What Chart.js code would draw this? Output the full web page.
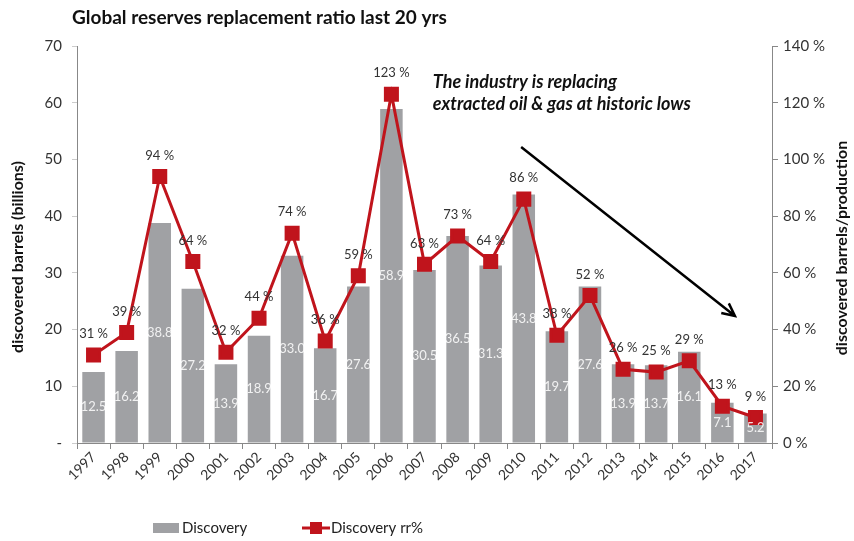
<!DOCTYPE html>
<html>
<head>
<meta charset="utf-8">
<script src="https://cdn.jsdelivr.net/npm/chart.js@4"></script>
<style>
  html, body { margin: 0; padding: 0; background: #fff; }
  #wrap { width: 854px; height: 541px; position: relative; }
</style>
</head>
<body>
<div id="wrap"><canvas id="chart" width="854" height="541"></canvas></div>
<script>
const years = ["1997","1998","1999","2000","2001","2002","2003","2004","2005","2006","2007",
               "2008","2009","2010","2011","2012","2013","2014","2015","2016","2017"];
const discovery = [12.5, 16.2, 38.8, 27.2, 13.9, 18.9, 33.0, 16.7, 27.6, 58.9, 30.5,
                   36.5, 31.3, 43.8, 19.7, 27.6, 13.9, 13.7, 16.1, 7.1, 5.2];
const ratio = [31, 39, 94, 64, 32, 44, 74, 36, 59, 123, 63,
               73, 64, 86, 38, 52, 26, 25, 29, 13, 9];

const FONT = "Lato, 'Open Sans', sans-serif";
const GREY = "#a0a1a4";
const RED = "#c0141c";

// Titres, annotations, étiquettes et légende
const extras = {
  id: "extras",
  afterDatasetsDraw(chart) {
    const ctx = chart.ctx;
    const x = chart.scales.x, y = chart.scales.y;
    ctx.save();

    // valeurs des barres (blanc, au centre)
    const barMeta = chart.getDatasetMeta(0);
    ctx.font = "13px " + FONT;
    ctx.fillStyle = "rgba(255,255,255,0.85)";
    ctx.textAlign = "center";
    ctx.textBaseline = "middle";
    barMeta.data.forEach((bar, i) => {
      ctx.fillText(discovery[i].toFixed(1), bar.x, (bar.y + bar.base) / 2);
    });

    // pourcentages au-dessus des points
    const lineMeta = chart.getDatasetMeta(1);
    ctx.fillStyle = "#333";
    lineMeta.data.forEach((pt, i) => {
      ctx.fillText(ratio[i] + " %", pt.x, pt.y - 21);
    });

    // titre
    ctx.font = "bold 19px " + FONT;
    ctx.fillStyle = "#111";
    ctx.textAlign = "left";
    ctx.fillText("Global reserves replacement ratio last 20 yrs", 72, 18);

    // annotation
    ctx.font = "italic bold 18px " + FONT;
    ctx.fillText("The industry is replacing", x.getPixelForValue(10.25), y.getPixelForValue(63.6));
    ctx.fillText("extracted oil & gas at historic lows", x.getPixelForValue(10.25), y.getPixelForValue(59.7));

    // flèche
    const x1 = x.getPixelForValue(12.92), y1 = y.getPixelForValue(52.2);
    const x2 = x.getPixelForValue(19.38), y2 = y.getPixelForValue(22.4);
    ctx.strokeStyle = "#000";
    ctx.lineWidth = 2.5;
    ctx.beginPath();
    ctx.moveTo(x1, y1);
    ctx.lineTo(x2, y2);
    const ang = Math.atan2(y2 - y1, x2 - x1);
    ctx.moveTo(x2 - 14 * Math.cos(ang - 0.45), y2 - 14 * Math.sin(ang - 0.45));
    ctx.lineTo(x2, y2);
    ctx.lineTo(x2 - 14 * Math.cos(ang + 0.45), y2 - 14 * Math.sin(ang + 0.45));
    ctx.stroke();

    // titres d'axes
    ctx.font = "bold 16px " + FONT;
    ctx.fillStyle = "#111";
    ctx.textAlign = "center";
    ctx.save();
    ctx.translate(18, 257);
    ctx.rotate(-Math.PI / 2);
    ctx.fillText("discovered barrels (billions)", 0, 0);
    ctx.restore();
    ctx.save();
    ctx.translate(842, 248);
    ctx.rotate(-Math.PI / 2);
    ctx.fillText("discovered barrels/production", 0, 0);
    ctx.restore();

    // légende
    ctx.font = "15px " + FONT;
    ctx.textAlign = "left";
    ctx.fillStyle = GREY;
    ctx.fillRect(153, 523, 26, 10);
    ctx.fillStyle = "#222";
    ctx.fillText("Discovery", 182, 528);
    ctx.strokeStyle = RED;
    ctx.lineWidth = 3;
    ctx.beginPath();
    ctx.moveTo(302, 528);
    ctx.lineTo(330, 528);
    ctx.stroke();
    ctx.fillStyle = RED;
    ctx.fillRect(310, 522, 12, 12);
    ctx.fillStyle = "#222";
    ctx.fillText("Discovery rr%", 331, 528);

    ctx.restore();
  }
};

new Chart(document.getElementById("chart"), {
  data: {
    labels: years,
    datasets: [
      {
        type: "bar",
        label: "Discovery",
        data: discovery,
        yAxisID: "y",
        backgroundColor: GREY,
        barPercentage: 0.68,
        categoryPercentage: 1,
        order: 2
      },
      {
        type: "line",
        label: "Discovery rr%",
        data: ratio,
        yAxisID: "y2",
        borderColor: RED,
        backgroundColor: RED,
        borderWidth: 3,
        pointStyle: "rect",
        pointRadius: 8.5,
        pointHoverRadius: 8.5,
        tension: 0,
        order: 1
      }
    ]
  },
  options: {
    responsive: false,
    animation: false,
    layout: { padding: { left: 0, right: 0, top: 46, bottom: 0 } },
    plugins: {
      legend: { display: false },
      tooltip: { enabled: false }
    },
    scales: {
      x: {
        grid: { display: true, drawOnChartArea: false, offset: true, tickLength: 6, color: "#888" },
        border: { color: "#888" },
        ticks: {
          minRotation: 45, maxRotation: 45, autoSkip: false,
          font: { family: FONT, size: 14 }, color: "#333", padding: 0
        },
        afterFit(s) { s.height = 98; }
      },
      y: {
        position: "left",
        min: 0, max: 70,
        ticks: {
          stepSize: 10,
          callback: v => v === 0 ? "-" : v,
          font: { family: FONT, size: 15 }, color: "#333", padding: 10
        },
        grid: { drawOnChartArea: false, tickLength: 5, color: "#ccc" },
        border: { color: "#888" },
        afterFit(s) { s.width = 77; }
      },
      y2: {
        position: "right",
        min: 0, max: 140,
        ticks: {
          stepSize: 20,
          callback: v => v + " %",
          font: { family: FONT, size: 15 }, color: "#333", padding: 5
        },
        grid: { drawOnChartArea: false, tickLength: 6, color: "#888" },
        border: { color: "#888" },
        afterFit(s) { s.width = 82; }
      }
    }
  },
  plugins: [extras]
});
</script>
</body>
</html>
